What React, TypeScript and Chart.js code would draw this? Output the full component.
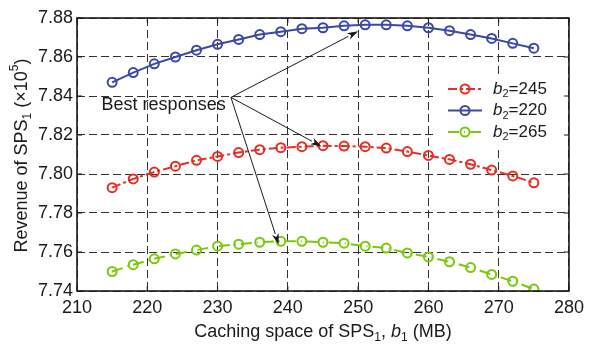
import React, { useEffect, useRef } from "react";
import { Chart, registerables } from "chart.js";

Chart.register(...registerables);

const xValues = [215, 218, 221, 224, 227, 230, 233, 236, 239, 242, 245, 248, 251, 254, 257, 260, 263, 266, 269, 272, 275];
const blue220 = [7.847, 7.852, 7.8565, 7.860, 7.8635, 7.8665, 7.869, 7.8715, 7.873, 7.8745, 7.875, 7.876, 7.8765, 7.8765, 7.876, 7.875, 7.8735, 7.8715, 7.8695, 7.867, 7.8645];
const red245 = [7.793, 7.7975, 7.801, 7.804, 7.807, 7.809, 7.811, 7.8125, 7.8135, 7.814, 7.8145, 7.8143, 7.814, 7.8133, 7.8115, 7.8095, 7.8075, 7.805, 7.802, 7.799, 7.7955];
const green265 = [7.750, 7.7535, 7.7565, 7.759, 7.761, 7.763, 7.764, 7.765, 7.7655, 7.7655, 7.765, 7.7645, 7.763, 7.762, 7.7595, 7.7575, 7.755, 7.752, 7.7485, 7.745, 7.741];

const xTicks = [210, 220, 230, 240, 250, 260, 270, 280];
const yTicks = [7.74, 7.76, 7.78, 7.80, 7.82, 7.84, 7.86, 7.88];

const legendLabels = ["245", "220", "265"];
const annotationText = "Best responses";
const annotationTextAt = [213.5, 7.8352];
const arrowFrom = [231.9, 7.8393];
const arrowTips = [
  [250.0, 7.8732],
  [244.8, 7.81415],
  [238.7, 7.76385],
];

const FONT = "'Liberation Sans', Arial, Helvetica, sans-serif";
const FS = 18;
const RED = "rgb(228,46,36)";
const BLUE = "rgb(58,72,170)";
const GREEN = "rgb(122,200,10)";
const RED_DASH = [9, 3, 3, 3];
const GREEN_DASH = [11, 5, 1, 5];

type Seg = { t: string; it?: boolean; sub?: boolean; sup?: boolean };

function drawRich(ctx: CanvasRenderingContext2D, segs: Seg[], x: number, y: number, size: number, align: "left" | "center") {
  const fontFor = (s: Seg) => {
    const sz = s.sub || s.sup ? Math.round(size * 0.65) : size;
    return `${s.it ? "italic " : ""}${sz}px ${FONT}`;
  };
  let total = 0;
  const widths = segs.map((s) => {
    ctx.font = fontFor(s);
    const w = ctx.measureText(s.t).width;
    total += w;
    return w;
  });
  let cx = align === "center" ? x - total / 2 : x;
  ctx.textBaseline = "middle";
  ctx.textAlign = "left";
  segs.forEach((s, i) => {
    ctx.font = fontFor(s);
    let dy = 0;
    if (s.sub) dy = size * 0.3;
    if (s.sup) dy = -size * 0.38;
    ctx.fillText(s.t, cx, y + dy);
    cx += widths[i];
  });
}

const decorPlugin = {
  id: "decor",
  afterDatasetsDraw(chart: any) {
    const ctx: CanvasRenderingContext2D = chart.ctx;
    const xs = chart.scales.x;
    const ys = chart.scales.y;
    const a = chart.chartArea;
    ctx.save();
    ctx.fillStyle = "#1a1a1a";
    ctx.strokeStyle = "#1a1a1a";

    // annotation text
    ctx.font = `${FS}px ${FONT}`;
    ctx.textAlign = "left";
    ctx.textBaseline = "middle";
    ctx.fillText(annotationText, xs.getPixelForValue(annotationTextAt[0]), ys.getPixelForValue(annotationTextAt[1]));

    // arrows
    const fx = xs.getPixelForValue(arrowFrom[0]);
    const fy = ys.getPixelForValue(arrowFrom[1]);
    arrowTips.forEach(([tx, ty]) => {
      const px = xs.getPixelForValue(tx);
      const py = ys.getPixelForValue(ty);
      const ang = Math.atan2(py - fy, px - fx);
      const hl = 11;
      const hw = 3.5;
      const bx = px - hl * Math.cos(ang);
      const by = py - hl * Math.sin(ang);
      ctx.lineWidth = 1;
      ctx.setLineDash([]);
      ctx.beginPath();
      ctx.moveTo(fx, fy);
      ctx.lineTo(bx, by);
      ctx.stroke();
      ctx.beginPath();
      ctx.moveTo(px, py);
      ctx.lineTo(bx + hw * Math.sin(ang), by - hw * Math.cos(ang));
      ctx.lineTo(bx + 3 * Math.cos(ang), by + 3 * Math.sin(ang));
      ctx.lineTo(bx - hw * Math.sin(ang), by + hw * Math.cos(ang));
      ctx.closePath();
      ctx.fill();
    });

    // legend
    const lx0 = 437, ly0 = 74, lw = a.right - lx0 - 1, lh = 74;
    ctx.fillStyle = "#fff";
    ctx.fillRect(lx0, ly0, lw, lh);
    const rows = [
      { c: RED, dash: RED_DASH, label: legendLabels[0] },
      { c: BLUE, dash: [] as number[], label: legendLabels[1] },
      { c: GREEN, dash: GREEN_DASH, label: legendLabels[2] },
    ];
    rows.forEach((r, i) => {
      const y = 89 + i * 21.5;
      ctx.strokeStyle = r.c;
      ctx.lineWidth = 2;
      ctx.setLineDash(r.dash);
      ctx.beginPath();
      ctx.moveTo(448, y);
      ctx.lineTo(482, y);
      ctx.stroke();
      ctx.setLineDash([]);
      ctx.beginPath();
      ctx.arc(465, y, 4.5, 0, Math.PI * 2);
      ctx.stroke();
      ctx.fillStyle = "#1a1a1a";
      drawRich(ctx, [{ t: "b", it: true }, { t: "2", sub: true }, { t: "=" + r.label }], 493, y, 17, "left");
    });

    ctx.restore();
  },
  afterDraw(chart: any) {
    const ctx: CanvasRenderingContext2D = chart.ctx;
    const xs = chart.scales.x;
    const ys = chart.scales.y;
    const a = chart.chartArea;
    ctx.save();
    ctx.strokeStyle = "#1a1a1a";
    ctx.setLineDash([]);
    // inward ticks
    ctx.lineWidth = 1;
    const tl = 5;
    xTicks.forEach((v) => {
      const p = xs.getPixelForValue(v);
      ctx.beginPath();
      ctx.moveTo(p, a.bottom);
      ctx.lineTo(p, a.bottom - tl);
      ctx.moveTo(p, a.top);
      ctx.lineTo(p, a.top + tl);
      ctx.stroke();
    });
    yTicks.forEach((v) => {
      const p = ys.getPixelForValue(v);
      ctx.beginPath();
      ctx.moveTo(a.left, p);
      ctx.lineTo(a.left + tl, p);
      ctx.moveTo(a.right, p);
      ctx.lineTo(a.right - tl, p);
      ctx.stroke();
    });
    // frame
    ctx.lineWidth = 1.6;
    ctx.strokeRect(a.left, a.top, a.right - a.left, a.bottom - a.top);

    // axis titles
    ctx.fillStyle = "#1a1a1a";
    drawRich(
      ctx,
      [{ t: "Caching space of SPS" }, { t: "1", sub: true }, { t: ", " }, { t: "b", it: true }, { t: "1", sub: true }, { t: " (MB)" }],
      (a.left + a.right) / 2,
      332,
      FS,
      "center"
    );
    ctx.save();
    ctx.translate(22, (a.top + a.bottom) / 2 + 1);
    ctx.rotate(-Math.PI / 2);
    drawRich(
      ctx,
      [{ t: "Revenue of SPS" }, { t: "1", sub: true }, { t: " (×10" }, { t: "5", sup: true }, { t: ")" }],
      0,
      0,
      FS,
      "center"
    );
    ctx.restore();
    ctx.restore();
  },
};

export default function App() {
  const ref = useRef<HTMLCanvasElement | null>(null);
  useEffect(() => {
    document.body.style.margin = "0";
    const mk = (label: string, data: number[], color: string, dash: number[]) => ({
      label,
      data: xValues.map((x, i) => ({ x, y: data[i] })),
      borderColor: color,
      borderWidth: 2,
      borderDash: dash,
      pointRadius: 4.5,
      pointBorderWidth: 2,
      pointBorderColor: color,
      pointBackgroundColor: "rgba(0,0,0,0)",
      fill: false,
      tension: 0,
    });
    const chart = new Chart(ref.current as HTMLCanvasElement, {
      type: "line",
      data: {
        datasets: [
          mk("b2=245", red245, RED, RED_DASH),
          mk("b2=220", blue220, BLUE, []),
          mk("b2=265", green265, GREEN, GREEN_DASH),
        ],
      },
      options: {
        responsive: false,
        animation: false,
        layout: { padding: { top: 18, right: 18, left: 0, bottom: 0 } },
        plugins: { legend: { display: false }, tooltip: { enabled: false } },
        scales: {
          x: {
            type: "linear",
            min: 210,
            max: 280,
            afterBuildTicks: (s: any) => {
              s.ticks = xTicks.map((v) => ({ value: v }));
            },
            afterFit: (s: any) => {
              s.height = 53;
            },
            ticks: {
              font: { family: FONT, size: FS },
              color: "#1a1a1a",
              padding: 6,
              maxRotation: 0,
              callback: (v: any) => String(v),
            },
            grid: { color: "#333", lineWidth: 1, drawTicks: false },
            border: { display: false, dash: [8, 4] },
          },
          y: {
            type: "linear",
            min: 7.74,
            max: 7.88,
            afterBuildTicks: (s: any) => {
              s.ticks = yTicks.map((v) => ({ value: v }));
            },
            afterFit: (s: any) => {
              s.width = 77;
            },
            ticks: {
              font: { family: FONT, size: FS },
              color: "#1a1a1a",
              padding: 4,
              callback: (v: any) => Number(v).toFixed(2),
            },
            grid: { color: "#333", lineWidth: 1, drawTicks: false },
            border: { display: false, dash: [8, 4] },
          },
        },
      },
      plugins: [decorPlugin],
    } as any);
    return () => chart.destroy();
  }, []);
  return (
    <div style={{ width: 590, height: 344 }}>
      <canvas ref={ref} width={590} height={344} style={{ display: "block" }} />
    </div>
  );
}
